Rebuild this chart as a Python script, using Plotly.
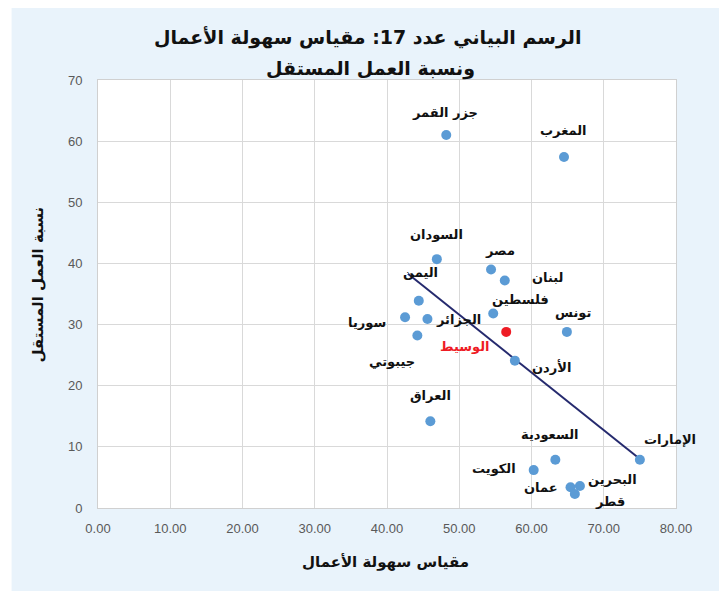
import plotly.graph_objects as go

# ---- data ----
countries = ["جزر القمر", "المغرب", "السودان", "مصر", "لبنان", "اليمن", "فلسطين",
             "تونس", "سوريا", "الجزائر", "جيبوتي", "الأردن", "العراق", "السعودية",
             "الكويت", "الإمارات", "عمان", "البحرين", "قطر"]
ease_of_business = [48.2, 64.5, 46.9, 54.4, 56.3, 44.4, 54.7,
                    64.9, 42.5, 45.6, 44.2, 57.7, 46.0, 63.3,
                    60.3, 75.0, 65.4, 66.7, 66.0]
self_employment = [61.0, 57.4, 40.7, 39.0, 37.2, 33.9, 31.8,
                   28.8, 31.2, 30.9, 28.2, 24.1, 14.2, 7.9,
                   6.2, 7.9, 3.4, 3.6, 2.3]
median_label = "الوسيط"
median_x = [56.5]
median_y = [28.8]
trend_x = [42.9, 75.0]
trend_y = [38.3, 8.0]
x_ticks = [0, 10, 20, 30, 40, 50, 60, 70, 80]
y_ticks = [0, 10, 20, 30, 40, 50, 60, 70]
title_line1 = "الرسم البياني عدد 17: مقياس سهولة الأعمال"
title_line2 = "ونسبة العمل المستقل"
x_title = "مقياس سهولة الأعمال"
y_title = "نسبة العمل المستقل"

# label offsets in pixels (dx right, dy up)
label_offsets = {
    "جزر القمر": (-1, 23), "المغرب": (-1, 27), "السودان": (0, 25), "مصر": (9, 19),
    "لبنان": (43, 3), "اليمن": (2, 28), "فلسطين": (27, 14), "تونس": (6, 19),
    "سوريا": (-38, -5), "الجزائر": (31, 0), "جيبوتي": (-25, -26), "الأردن": (37, -6),
    "العراق": (0, 26), "السعودية": (-5, 25), "الكويت": (-40, 2), "الإمارات": (30, 20),
    "عمان": (-30, 0), "البحرين": (33, 6), "قطر": (35, -8),
}
median_offset = (-41, -15)

AR_FONT = "DejaVu Sans, Arial, sans-serif"
NUM_FONT = "Liberation Sans, Arial, sans-serif"
BG = "#e9f3fb"

# page geometry (the page body adds an 8px margin)
OFF = 8
W, H = 727 - OFF, 591 - OFF
L, R, T, B = 97.5 - OFF, 676 - OFF, 80 - OFF, 508 - OFF


def px_x(page_px):
    return (page_px - OFF - L) / (R - L)


def px_y(page_py):
    return (B - (page_py - OFF)) / (B - T)


fig = go.Figure()
fig.add_trace(go.Scatter(x=trend_x, y=trend_y, mode="lines",
                         line=dict(color="#252a6e", width=2), hoverinfo="skip"))
fig.add_trace(go.Scatter(x=ease_of_business, y=self_employment, mode="markers",
                         marker=dict(color="#5b9bd5", size=10), text=countries))
fig.add_trace(go.Scatter(x=median_x, y=median_y, mode="markers",
                         marker=dict(color="#ee1c25", size=10), text=[median_label]))

annotations = []
for c, x, y in zip(countries, ease_of_business, self_employment):
    dx, dy = label_offsets[c]
    annotations.append(dict(x=x, y=y, xref="x", yref="y", text="<b>%s</b>" % c,
                            showarrow=False, xshift=dx, yshift=dy,
                            xanchor="center", yanchor="middle",
                            font=dict(family=AR_FONT, size=13, color="#111111")))
annotations.append(dict(x=median_x[0], y=median_y[0], xref="x", yref="y",
                        text="<b>%s</b>" % median_label, showarrow=False,
                        xshift=median_offset[0], yshift=median_offset[1],
                        xanchor="center", yanchor="middle",
                        font=dict(family=AR_FONT, size=13, color="#ee1c25")))
# titles
annotations.append(dict(x=px_x(368), y=px_y(37), xref="paper", yref="paper", text="<b>%s</b>" % title_line1,
                        showarrow=False, xanchor="center", yanchor="middle",
                        font=dict(family=AR_FONT, size=19, color="#111111")))
annotations.append(dict(x=px_x(370), y=px_y(68), xref="paper", yref="paper", text="<b>%s</b>" % title_line2,
                        showarrow=False, xanchor="center", yanchor="middle",
                        font=dict(family=AR_FONT, size=19, color="#111111")))
annotations.append(dict(x=px_x(385), y=px_y(562), xref="paper", yref="paper", text="<b>%s</b>" % x_title,
                        showarrow=False, xanchor="center", yanchor="middle",
                        font=dict(family=AR_FONT, size=15, color="#111111")))
annotations.append(dict(x=px_x(37), y=px_y(285), xref="paper", yref="paper", text="<b>%s</b>" % y_title,
                        showarrow=False, textangle=-90, xanchor="center", yanchor="middle",
                        font=dict(family=AR_FONT, size=15, color="#111111")))

# white strip left of the light-blue panel
shapes = [
    dict(type="rect", xref="paper", yref="paper", layer="above", line=dict(width=0), fillcolor="white",
         x0=px_x(OFF - 1), x1=px_x(11), y0=px_y(600), y1=px_y(0)),
]

fig.update_layout(
    width=W, height=H,
    margin=dict(l=L, r=W - R, t=T, b=H - B),
    paper_bgcolor=BG, plot_bgcolor="white",
    showlegend=False,
    annotations=annotations,
    shapes=shapes,
    xaxis=dict(range=[0, 80], tickvals=x_ticks, ticktext=["%.2f" % v for v in x_ticks],
               showgrid=True, gridcolor="#d9d9d9", gridwidth=1, zeroline=False,
               showline=True, linecolor="#d0d0d0", mirror=True,
               ticks="", ticklabelstandoff=8,
               tickfont=dict(family=NUM_FONT, size=13, color="#595959")),
    yaxis=dict(range=[0, 70], tickvals=y_ticks,
               showgrid=True, gridcolor="#d9d9d9", gridwidth=1, zeroline=False,
               showline=True, linecolor="#d0d0d0", mirror=True,
               ticks="", ticklabelstandoff=12,
               tickfont=dict(family=NUM_FONT, size=13, color="#595959")),
)

fig.write_html("out.html")
